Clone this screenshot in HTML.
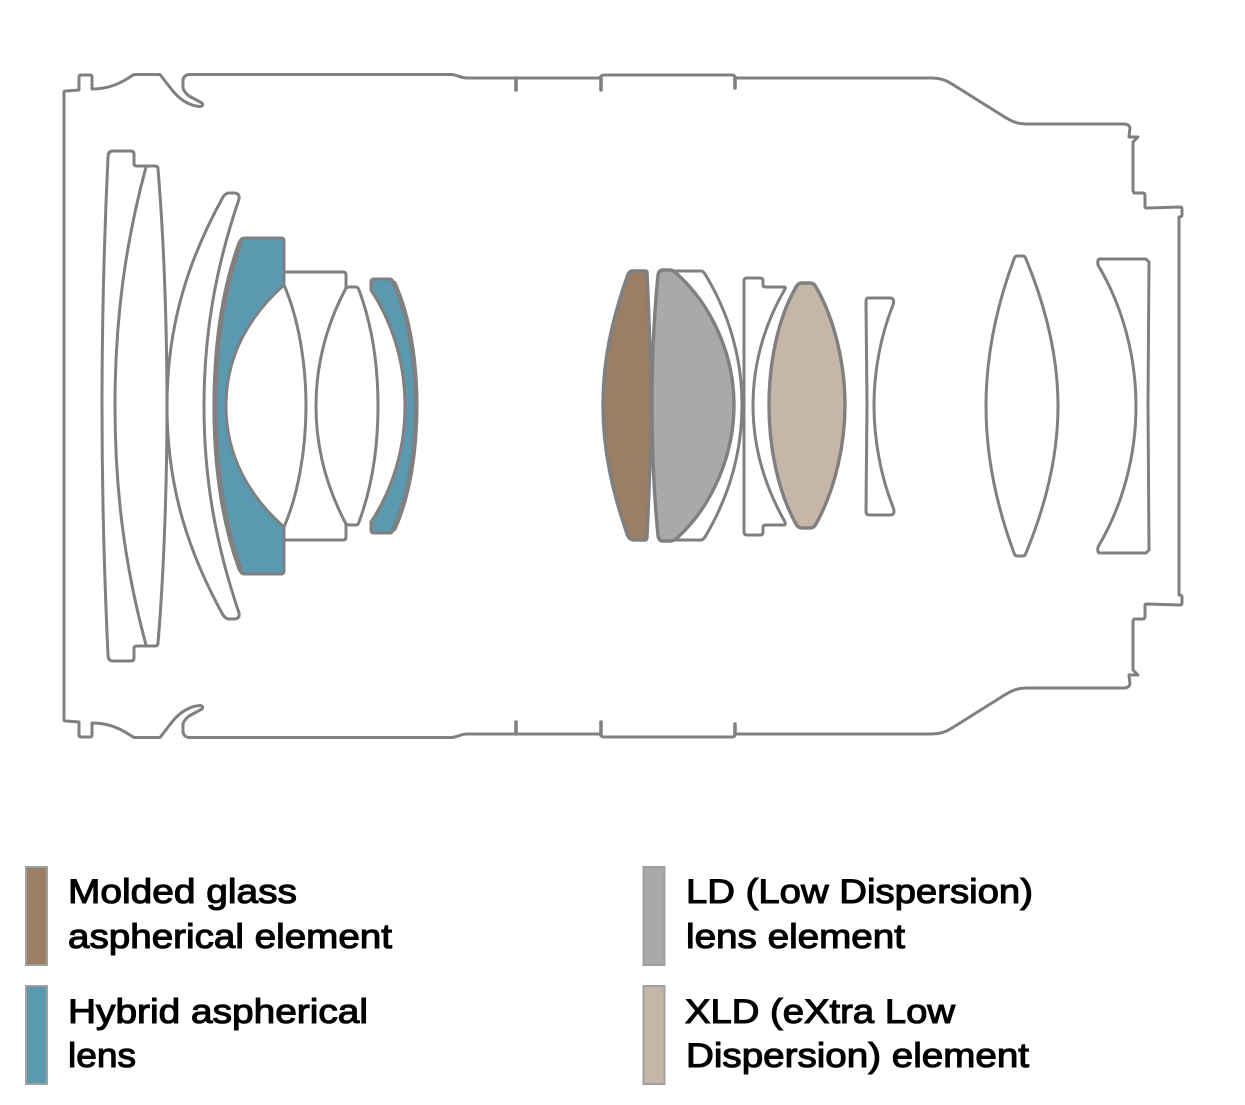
<!DOCTYPE html>
<html>
<head>
<meta charset="utf-8">
<style>
html,body{margin:0;padding:0;background:#fff;}
svg{display:block;}
.l{fill:#fff;stroke:#808080;stroke-width:3;stroke-linejoin:round;stroke-linecap:round;}
.o{fill:none;stroke:#808080;stroke-width:3;stroke-linejoin:round;stroke-linecap:round;}
.n{fill:none;stroke:#808080;stroke-width:3.6;stroke-linecap:round;}
.t{font-family:"Liberation Sans",sans-serif;font-size:34px;fill:#000;stroke:#000;stroke-width:1.1px;}
</style>
</head>
<body>
<svg xmlns="http://www.w3.org/2000/svg" width="1245" height="1105" viewBox="0 0 1245 1105">
<rect width="1245" height="1105" fill="#fff"/>

<!-- barrel outline -->
<g>
<path class="o" d="M64,406 V92 Q64,91 66,91 L79,90 V77 Q79,75 81,75 H90 Q92,75 92,77 L92,89 C108,89 120,84 133,75 L135,74.500 H160 L172,90 C180,100 190,106 200,106.500 Q204,106 202,103 L189,96 Q184,92 183,88 V80 Q184,75 189,74.500 H452 C458,75 460,78 467,78 H600 Q601,75 604,75 H732 Q735,75 735,78 H932 C940,78 946,80 952,84 L1003,116 C1011,121 1017,124 1026,124 H1124 Q1129,124 1130,128 L1129,137 L1138,137 L1133,142 V191 L1134,193 H1143 Q1145,193 1145,196 V207 Q1145,208 1147,208 L1180,207 Q1182,207 1182,209 V215 Q1182,217 1179,217 V406"/>
<path class="n" d="M516,78 V90 M601,78 V90 M735,78 V88"/>
</g>
<g transform="matrix(1 0 0 -1 0 812)">
<path class="o" d="M64,406 V92 Q64,91 66,91 L79,90 V77 Q79,75 81,75 H90 Q92,75 92,77 L92,89 C108,89 120,84 133,75 L135,74.500 H160 L172,90 C180,100 190,106 200,106.500 Q204,106 202,103 L189,96 Q184,92 183,88 V80 Q184,75 189,74.500 H452 C458,75 460,78 467,78 H600 Q601,75 604,75 H732 Q735,75 735,78 H932 C940,78 946,80 952,84 L1003,116 C1011,121 1017,124 1026,124 H1124 Q1129,124 1130,128 L1129,137 L1138,137 L1133,142 V191 L1134,193 H1143 Q1145,193 1145,196 V207 Q1145,208 1147,208 L1180,207 Q1182,207 1182,209 V215 Q1182,217 1179,217 V406"/>
<path class="n" d="M516,78 V90 M601,78 V90 M735,78 V88"/>
</g>

<!-- front lens 1 -->
<path class="l" d="M113,151 H131 Q134,151 134,154 V164 Q134,166 137,166 H155 Q158,166 158,169 C164,240 167,330 167,406 C167,482 164,572 158,643 Q158,646 155,646 H137 Q134,646 134,648 V658 Q134,661 131,661 H113 Q108,661 108,655 C104,570 102,490 102,406 C102,322 104,242 108,157 Q108,151 113,151 Z"/>
<path class="o" d="M146,167 C125,245 115,320 115,406 C115,492 125,567 146,645"/>

<!-- meniscus -->
<path class="l" d="M228,193 H235 Q240,194 239,199 C215,270 204,335 204,406 C204,477 215,542 239,613 Q240,618 235,619 H228 Q225,618 223,615 C190,555 167,490 167,406 C167,322 190,257 223,197 Q225,194 228,193 Z"/>

<!-- hybrid big -->
<path d="M244,238 H281 Q284,238 284,241 V285 C250,315 226,355 226,406 C226,457 250,497 284,527 V571 Q284,574 281,574 H244 Q241,574 239,569 C223,525 214,470 214,406 C214,342 223,287 239,243 Q241,238 244,238 Z" fill="#5b99b0" stroke="#808080" stroke-width="3" stroke-linejoin="round"/>
<path class="o" style="stroke-width:5" d="M240,243 C224,287 215,342 215,406 C215,470 224,525 240,569"/>

<!-- doublet -->
<path class="l" d="M284,272 H343 Q346,272 346,275 V288 L320,406 L346,524 V537 Q346,540 343,540 H284 V527 C298,495 306,450 306,406 C306,362 298,317 284,285 Z"/>
<path class="l" d="M346,288 L349,287 H356 Q358,287 359,290 C372,325 378,365 378,406 C378,447 372,487 359,522 Q358,525 356,525 H349 L346,524 C328,490 316,450 316,406 C316,362 328,322 346,288 Z"/>

<!-- hybrid small -->
<path d="M374,279 H390 Q392,279 393,282 C408,315 417,360 417,406 C417,452 408,497 393,530 Q392,533 390,533 H374 Q371,533 371,530 V522 C392,490 405,450 405,406 C405,362 392,322 371,290 V282 Q371,279 374,279 Z" fill="#5b99b0" stroke="#808080" stroke-width="3" stroke-linejoin="round"/>
<path class="o" style="stroke-width:5" d="M394,283 C409,316 416,360 416,406 C416,452 409,496 394,529"/>

<!-- white rear -->
<path class="l" d="M672,271 H701 Q703,271 705,274 C730,315 742,360 742,405 C742,450 730,495 705,537 Q703,540 701,540 H672 Z"/>
<!-- brown -->
<path d="M632,271 H645 Q647,271 647,273 C649,315 651,360 651,405 C651,450 649,495 647,537 Q647,540 645,540 H634 Q629,540 627,534 C612,490 603,450 603,405 C603,360 612,320 627,277 Q629,271 632,271 Z" fill="#9b7e63" stroke="#808080" stroke-width="3.400" stroke-linejoin="round"/>
<!-- gray -->
<path d="M663,270 H670 Q673,270 676,273 C712,305 734,355 734,405 C734,455 712,507 676,539 Q673,541 670,541 H663 Q659,541 658,536 C654,495 652,450 652,405 C652,360 654,315 658,275 Q659,270 663,270 Z" fill="#a9a9a9" stroke="#808080" stroke-width="3.400" stroke-linejoin="round"/>

<!-- element with flange -->
<path class="l" d="M747,278 H760 Q763,278 763,281 V285 Q763,287 766,287 H784 Q786,287 785,289 C764,325 753,365 753,405 C753,445 764,485 785,522 Q786,525 784,525 H766 Q763,525 763,527 V532 Q763,535 760,535 H747 Q744,535 744,532 V281 Q744,278 747,278 Z"/>
<!-- tan -->
<path d="M802,283 H810 Q814,283 816,287 C835,320 845,365 845,405 C845,445 835,490 816,524 Q814,528 810,528 H802 Q798,528 796,524 C777,490 769,445 769,405 C769,365 777,320 796,287 Q798,283 802,283 Z" fill="#c5b6a7" stroke="#808080" stroke-width="3.400" stroke-linejoin="round"/>
<!-- concave -->
<path class="l" d="M868,298 H890 Q895,298 893,305 C881,335 874,370 874,405 C874,440 881,477 893,507 Q896,515 890,515 H869 Q866,515 866,511 L867,405 L866,302 Q866,298 868,298 Z"/>

<!-- rear convex -->
<path class="l" d="M1017,256 H1023 Q1025,256 1026,259 C1045,305 1058,355 1058,406 C1058,457 1045,507 1026,553 Q1025,556 1023,556 H1017 Q1015,556 1014,553 C997,507 986,457 986,406 C986,355 997,305 1014,259 Q1015,256 1017,256 Z"/>
<!-- last -->
<path class="l" d="M1100,259 H1146 L1149,262 L1148,406 L1149,550 L1146,553 H1100 Q1097,553 1098,547 C1123,505 1136,455 1136,406 C1136,357 1123,307 1098,265 Q1097,259 1100,259 Z"/>

<!-- legend swatches -->
<rect x="26" y="867" width="21" height="98" fill="#9b7e63" stroke="#a0a0a0" stroke-width="2"/>
<rect x="26" y="986" width="21" height="98" fill="#5b99b0" stroke="#a0a0a0" stroke-width="2"/>
<rect x="643.500" y="867" width="21" height="98" fill="#a9a9a9" stroke="#a0a0a0" stroke-width="2"/>
<rect x="643.500" y="986" width="21" height="98" fill="#c5b6a7" stroke="#a0a0a0" stroke-width="2"/>

<!-- legend text -->
<text class="t" x="68" y="903" textLength="229" lengthAdjust="spacingAndGlyphs">Molded glass</text>
<text class="t" x="68" y="948" textLength="324" lengthAdjust="spacingAndGlyphs">aspherical element</text>
<text class="t" x="68" y="1023" textLength="300" lengthAdjust="spacingAndGlyphs">Hybrid aspherical</text>
<text class="t" x="68" y="1067" textLength="68" lengthAdjust="spacingAndGlyphs">lens</text>
<text class="t" x="686" y="903" textLength="347" lengthAdjust="spacingAndGlyphs">LD (Low Dispersion)</text>
<text class="t" x="686" y="948" textLength="219" lengthAdjust="spacingAndGlyphs">lens element</text>
<text class="t" x="685" y="1023" textLength="270" lengthAdjust="spacingAndGlyphs">XLD (eXtra Low</text>
<text class="t" x="686" y="1067" textLength="343" lengthAdjust="spacingAndGlyphs">Dispersion) element</text>
</svg>
</body>
</html>
